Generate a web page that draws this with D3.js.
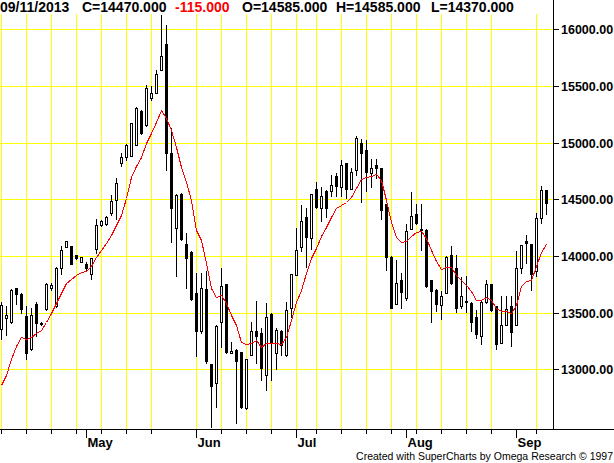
<!DOCTYPE html>
<html>
<head>
<meta charset="utf-8">
<script src="https://d3js.org/d3.v7.min.js"></script>
<style>
  body { margin: 0; background: #fff; }
  svg { display: block; }
  text { font-family: "Liberation Sans", Arial, sans-serif; }
</style>
</head>
<body>
<svg class="chart"></svg>
<script>
// daily bars, oldest first, last bar is 09/11/2013
var opens = [13360,13450,13420,13715,13665,13470,13175,13580,13410,13530,
    13715,13555,13890,14075,14090,14010,13950,13930,13840,14060,
    14270,14280,14380,14490,14820,14870,14885,14980,15280,15155,
    15395,15440,15645,15870,14905,14245,14550,14105,14035,13670,
    13340,13705,13045,12880,13415,13750,13140,13170,13150,12655,
    13130,13340,13320,12950,13490,13140,13340,13125,13545,13830,
    14075,14340,14160,14590,14420,14575,14570,14705,14610,14820,
    14595,14760,14995,14935,14735,14805,14775,14455,13995,13580,
    13790,13630,14235,14370,14235,14230,13785,13700,13565,13675,
    14010,13895,13555,13600,13585,13460,13290,13595,13750,13555,
    13235,13395,13560,13395,13895,14130,14105,13865,14335,14585];
var highs = [13590,13555,13710,13720,13670,13555,13540,13590,13415,13760,
    13760,13905,14090,14135,14090,14010,13995,13950,13980,14330,
    14320,14350,14540,14690,14905,14990,15175,15315,15290,15510,
    15500,15645,16125,16040,15125,14545,14555,14200,14040,13850,
    13850,13870,13050,13390,13890,13755,13245,13175,13155,13095,
    13420,13600,13365,13585,13495,13365,13345,13590,13845,14250,
    14450,14420,14550,14655,14610,14580,14715,14730,14845,14820,
    14775,15060,15030,15020,14860,14860,14780,14460,14000,13965,
    13850,14285,14565,14455,14455,14235,13790,13705,13690,14000,
    14090,14010,13815,13820,13590,13520,13600,13790,13755,13560,
    13645,13645,13645,14040,14100,14185,14110,14375,14615,14585];
var lows = [13265,13305,13410,13580,13495,13095,13170,13290,13395,13520,
    13700,13550,13845,14075,13925,13975,13945,13880,13795,14030,
    14265,14275,14360,14330,14790,14850,14880,14975,15075,15150,
    15375,15435,15640,14760,14125,13820,14140,13715,13615,13120,
    13320,13060,12490,12670,13200,13140,13140,12525,12660,12650,
    13125,13055,12905,12820,12905,13000,13125,13120,13465,13830,
    14040,13900,14060,14420,14305,14345,14525,14530,14530,14510,
    14595,14715,14480,14575,14610,14685,14330,13880,13545,13580,
    13545,13615,14235,14285,14050,13725,13420,13515,13445,13670,
    13755,13510,13540,13510,13335,13275,13225,13585,13515,13175,
    13230,13390,13205,13390,13850,13935,13700,13820,14295,14370];
var closes = [13570,13480,13700,13665,13530,13140,13480,13405,13400,13755,
    13745,13895,14055,14130,13925,13980,13995,13890,13980,14270,
    14310,14345,14485,14645,14875,14980,15170,15310,15085,15480,
    15435,15610,15765,14910,14420,14540,14150,13980,13620,13335,
    13715,13070,12850,13385,13735,13155,13165,13070,12665,13090,
    13335,13295,13010,13460,13230,13350,13215,13525,13840,14055,
    14310,14170,14545,14430,14530,14425,14625,14620,14800,14590,
    14740,15040,14905,14745,14775,14780,14410,13990,13545,13760,
    13680,14220,14355,14290,14230,13735,13690,13575,13650,13995,
    13760,13540,13650,13590,13415,13310,13595,13750,13520,13220,
    13390,13530,13330,13895,14100,14115,13840,14335,14585,14470];
// red moving average
var average = [12862,12950,13090,13210,13288,13270,13288,13320,13347,13421,
    13494,13582,13676,13759,13794,13832,13862,13868,13912,13994,
    14053,14112,14185,14274,14362,14509,14700,14790,14870,14995,
    15083,15180,15289,15215,15115,14965,14789,14656,14495,14230,
    14142,13936,13716,13642,13657,13583,13480,13392,13245,13222,
    13230,13260,13201,13230,13236,13230,13224,13288,13435,13597,
    13700,13847,13979,14068,14176,14259,14347,14421,14450,14479,
    14518,14597,14676,14694,14709,14721,14671,14494,14303,14171,
    14120,14130,14175,14208,14224,14157,14054,13952,13884,13902,
    13902,13834,13790,13746,13688,13614,13614,13638,13614,13541,
    13512,13517,13497,13570,13732,13776,13790,13908,14031,14107];

var lastDate = "09/11/2013";
var priceTicks = [13000, 13500, 14000, 14500, 15000, 15500, 16000];
var monthLabels = ["May", "Jun", "Jul", "Aug", "Sep"];
var monthBars = [17, 39, 59, 81, 103];
var gridBars = [0, 5, 10, 15, 20, 25, 30, 39, 44, 49, 54, 59, 63, 68, 73, 78, 83, 88, 93, 98, 107];
var footer = "Created with SuperCharts by Omega Research \u00a9 1997";

var width = 614, height = 463,
    plotRight = 553, axisY = 429, headerH = 14;

var svg = d3.select(".chart")
    .attr("width", width)
    .attr("height", height);

svg.append("rect")
    .attr("width", width).attr("height", height)
    .attr("fill", "#fff");

var x = d3.scaleLinear()
    .domain([0, closes.length - 1])
    .range([1, 1 + 5 * (closes.length - 1)]);

var y = d3.scaleLinear()
    .domain([13000, 16000])
    .range([369.3, 29.3])
    .interpolate(d3.interpolateRound);

var plot = svg.append("g").attr("shape-rendering", "crispEdges");

// yellow grid
plot.selectAll(".hgrid").data(priceTicks).enter().append("line")
    .attr("x1", 0).attr("x2", plotRight)
    .attr("y1", function(d) { return y(d) + 0.5; })
    .attr("y2", function(d) { return y(d) + 0.5; })
    .attr("stroke", "#ffff00");

plot.selectAll(".vgrid").data(gridBars).enter().append("line")
    .attr("x1", function(d) { return x(d) + 0.5; })
    .attr("x2", function(d) { return x(d) + 0.5; })
    .attr("y1", 0).attr("y2", axisY)
    .attr("stroke", "#ffff00");

// candles
var bars = d3.range(closes.length);

plot.selectAll(".wick").data(bars).enter().append("line")
    .attr("x1", function(i) { return x(i) + 0.5; })
    .attr("x2", function(i) { return x(i) + 0.5; })
    .attr("y1", function(i) { return y(highs[i]); })
    .attr("y2", function(i) { return y(lows[i]) + 1; })
    .attr("stroke", "#000");

plot.selectAll(".down").data(bars.filter(function(i) { return closes[i] < opens[i]; }))
    .enter().append("rect")
    .attr("x", function(i) { return x(i) - 1; })
    .attr("y", function(i) { return y(opens[i]); })
    .attr("width", 3)
    .attr("height", function(i) { return y(closes[i]) - y(opens[i]) + 1; })
    .attr("fill", "#000");

plot.selectAll(".up").data(bars.filter(function(i) { return closes[i] >= opens[i]; }))
    .enter().append("rect")
    .attr("x", function(i) { return x(i) - 0.5; })
    .attr("y", function(i) { return y(closes[i]) + 0.5; })
    .attr("width", 2)
    .attr("height", function(i) { return Math.max(y(opens[i]) - y(closes[i]), 0); })
    .attr("fill", "#fff")
    .attr("stroke", "#000");

// moving average
var line = d3.line()
    .x(function(d, i) { return x(i) + 0.5; })
    .y(function(d) { return y(d) + 0.5; });

plot.append("path")
    .datum(average)
    .attr("d", line)
    .attr("fill", "none")
    .attr("stroke", "#ff0000");

// header strip
plot.append("rect")
    .attr("x", 0).attr("y", 0)
    .attr("width", plotRight).attr("height", headerH)
    .attr("fill", "#fff");

// frame lines
plot.append("line")
    .attr("x1", plotRight + 0.5).attr("x2", plotRight + 0.5)
    .attr("y1", 0).attr("y2", axisY + 1)
    .attr("stroke", "#000");

plot.append("line")
    .attr("x1", 0).attr("x2", width)
    .attr("y1", axisY + 0.5).attr("y2", axisY + 0.5)
    .attr("stroke", "#000");

// price axis on the right (labels sized to end at the window edge)
var yAxis = svg.append("g")
    .attr("transform", "translate(" + plotRight + ",0)")
    .call(d3.axisRight(y)
        .tickValues(priceTicks)
        .tickSize(6)
        .tickFormat(d3.format(".2f")));
yAxis.select(".domain").remove();
yAxis.selectAll("line").attr("shape-rendering", "crispEdges");
yAxis.selectAll("text")
    .attr("x", 8)
    .attr("fill", "#000")
    .style("font-size", "12.5px")
    .style("font-weight", "bold")
    .style("font-family", "'Liberation Sans', Arial, sans-serif");

// time axis: weekly ticks and month ticks
var weekAxis = svg.append("g")
    .attr("transform", "translate(0," + axisY + ")")
    .call(d3.axisBottom(x)
        .tickValues(gridBars)
        .tickSize(5)
        .tickFormat(""));
weekAxis.select(".domain").remove();

var monthAxis = svg.append("g")
    .attr("transform", "translate(0," + axisY + ")")
    .call(d3.axisBottom(x)
        .tickValues(monthBars)
        .tickSize(9)
        .tickFormat(function(d, i) { return monthLabels[i]; }));
monthAxis.select(".domain").remove();
monthAxis.selectAll("text")
    .attr("x", 1)
    .attr("y", 9)
    .attr("fill", "#000")
    .style("text-anchor", "start")
    .style("font-size", "13px")
    .style("font-weight", "bold")
    .style("font-family", "'Liberation Sans', Arial, sans-serif");
svg.selectAll(".tick line").attr("shape-rendering", "crispEdges");

// header values from the last bar
var n = closes.length - 1;
var f3 = d3.format(".3f");
var header = [
    { t: lastDate, x: 0, c: "#000" },
    { t: "C=" + f3(closes[n]), x: 82, c: "#000" },
    { t: f3(closes[n] - closes[n - 1]).replace("\u2212", "-"), x: 175, c: "#ff0000" },
    { t: "O=" + f3(opens[n]), x: 242, c: "#000" },
    { t: "H=" + f3(highs[n]), x: 336, c: "#000" },
    { t: "L=" + f3(lows[n]), x: 431, c: "#000" }
];

svg.selectAll(".head").data(header).enter().append("text")
    .attr("x", function(d) { return d.x; })
    .attr("y", 12)
    .attr("fill", function(d) { return d.c; })
    .style("font-size", "14px")
    .style("font-weight", "bold")
    .text(function(d) { return d.t; });

svg.append("text")
    .attr("x", 613)
    .attr("y", 460)
    .attr("text-anchor", "end")
    .style("font-size", "10.5px")
    .text(footer);
</script>
</body>
</html>
